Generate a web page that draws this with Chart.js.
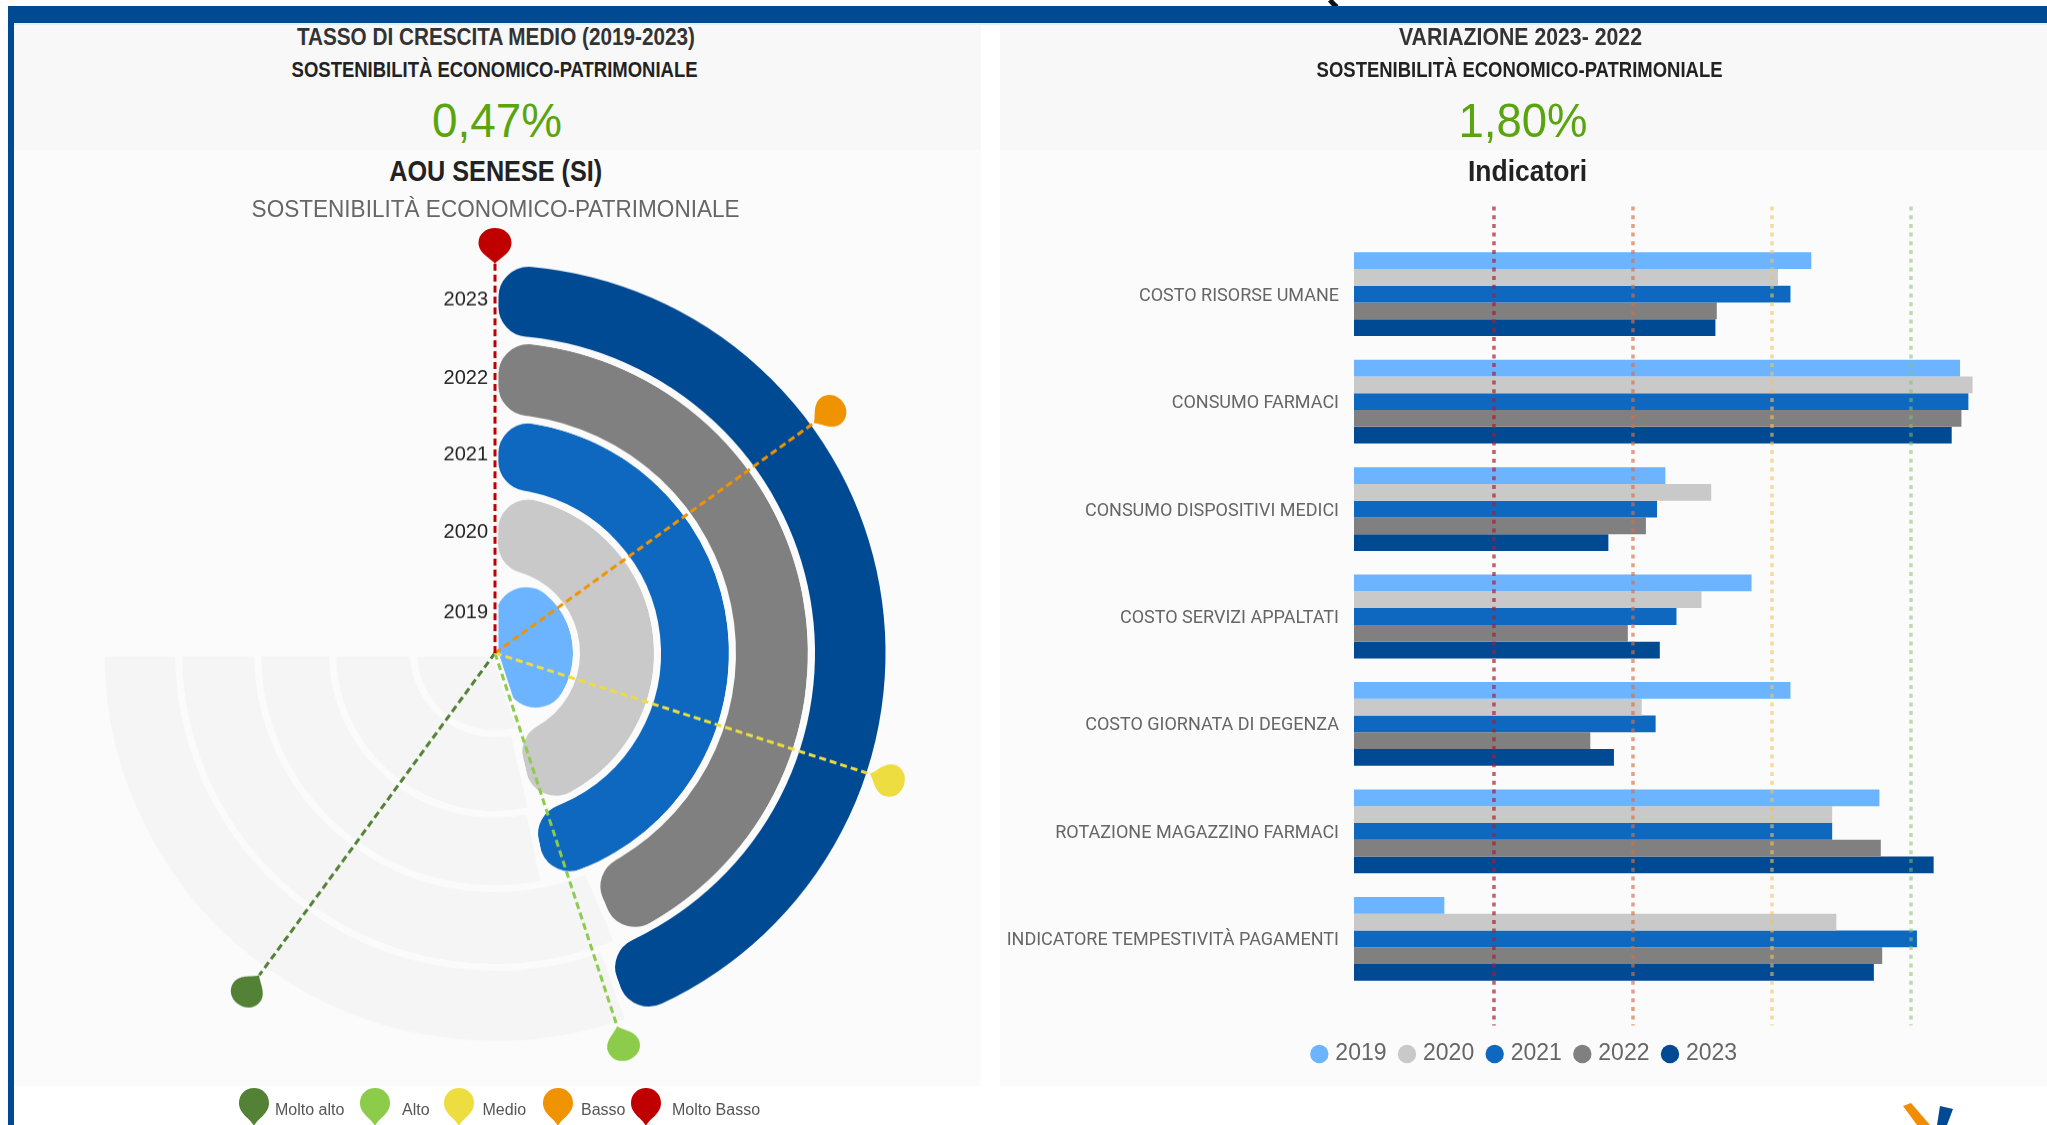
<!DOCTYPE html>
<html lang="it"><head><meta charset="utf-8">
<script src="https://cdn.jsdelivr.net/npm/chart.js@4"></script>
<style>
html,body{margin:0;padding:0;background:#fff;width:2047px;height:1125px;overflow:hidden;position:relative}
.box{position:absolute}
.t{position:absolute;white-space:nowrap;line-height:1;font-family:"Liberation Sans",sans-serif;transform-origin:center center}
canvas{position:absolute}
.lg{position:absolute;font:16px "Liberation Sans",sans-serif;color:#555;white-space:nowrap;line-height:1}
#all{position:absolute;left:0;top:0;width:2047px;height:1125px;filter:blur(.5px);overflow:hidden}
</style></head><body><div id="all">
<div class="box" style="left:1300px;top:0;width:60px;height:8px"><svg width="60" height="8" style="display:block"><path d="M30 0 Q33 4 37 7" stroke="#111" stroke-width="5" fill="none"/></svg></div>
<div class="box" style="left:8px;top:6px;width:2039px;height:17px;background:#004a93"></div>
<div class="box" style="left:8px;top:6px;width:6px;height:1119px;background:#004a93"></div>
<div class="box" style="left:14px;top:23px;width:2033px;height:2px;background:#dff0f8"></div>
<div class="box" style="left:14px;top:25px;width:967px;height:125px;background:#f8f8f8"></div>
<div class="box" style="left:14px;top:150px;width:967px;height:936px;background:#fbfbfb"></div>
<div class="box" style="left:1000px;top:25px;width:1047px;height:125px;background:#f8f8f8"></div>
<div class="box" style="left:1000px;top:150px;width:1047px;height:936px;background:#fbfbfb"></div>
<svg class="box" style="left:1880px;top:1095px" width="90" height="30"><path d="M23 11 L31 8 L50 30 L37 30 Z" fill="#f28c00"/><path d="M60 11 L73 14 L67 30 L57 30 Z" fill="#004a93"/></svg>
<canvas id="gauge" width="880" height="880" style="left:55px;top:213px;transform:scaleY(.993)"></canvas>
<canvas id="bars" width="1046" height="896" style="left:1003px;top:190px"></canvas>
<div id="texts"></div><div id="legend"></div>
</div>
<script>
const years = ['2019','2020','2021','2022','2023'];
const yearColors = ['#6cb4ff','#c9c9c9','#0f68c0','#808080','#004a93'];
const gaugeValues = [3.00,3.09,3.11,2.91,2.965];
const ringWeights = [81.5,81,75,79,77.5];
const gaugeMax = 5;
const trackColor = '#f5f5f5';
const levels = ['Molto alto','Alto','Medio','Basso','Molto Basso'];
const levelColors = ['#538135','#8ccc4a','#eedd40','#f09300','#c00000'];
const levelThresholds = [4,3,2,1,0];
const pinReach = [12,6,5,5,3];
const indicators = ['COSTO RISORSE UMANE','CONSUMO FARMACI','CONSUMO DISPOSITIVI MEDICI','COSTO SERVIZI APPALTATI','COSTO GIORNATA DI DEGENZA','ROTAZIONE MAGAZZINO FARMACI','INDICATORE TEMPESTIVITÀ PAGAMENTI'];
const v2019 = [3.29,4.36,2.24,2.86,3.14,3.78,0.65];
const v2020 = [3.05,4.45,2.57,2.50,2.07,3.44,3.47];
const v2021 = [3.14,4.42,2.18,2.32,2.17,3.44,4.05];
const v2022 = [2.61,4.37,2.10,1.97,1.70,3.79,3.80];
const v2023 = [2.60,4.30,1.83,2.20,1.87,4.17,3.74];
const barThresholds = [1.007,2.007,3.007,4.007];
const barThresholdColors = ['rgba(165,30,50,.7)','rgba(215,110,70,.65)','rgba(240,195,100,.6)','rgba(130,195,115,.55)'];

const headerTexts = [
 ['TASSO DI CRESCITA MEDIO (2019-2023)',496,37,398,23,'bold','#333'],
 ['SOSTENIBILITÀ ECONOMICO-PATRIMONIALE',495,70,406,22,'bold','#222'],
 ['0,47%',497,121,130,48,'normal','#5aa50f'],
 ['AOU SENESE (SI)',496,171,213,30,'bold','#222'],
 ['SOSTENIBILITÀ ECONOMICO-PATRIMONIALE',496,209,488,24,'normal','#666'],
 ['VARIAZIONE 2023- 2022',1520,37,243,23,'bold','#333'],
 ['SOSTENIBILITÀ ECONOMICO-PATRIMONIALE',1520,70,406,22,'bold','#222'],
 ['1,80%',1523,121,129,48,'normal','#5aa50f'],
 ['Indicatori',1528,171,119,30,'bold','#222']
];
const host = document.getElementById('texts');
headerTexts.forEach(([s,cx,cy,w,fs,fw,col])=>{
  const d=document.createElement('div');d.className='t';d.textContent=s;
  d.style.fontSize=fs+'px';d.style.fontWeight=fw;d.style.color=col;
  host.appendChild(d);
  const r=d.getBoundingClientRect();
  d.style.left=(cx-r.width/2)+'px';d.style.top=(cy-r.height/2)+'px';
  d.style.transform='scaleX('+(w/r.width)+')';
});

const legendPinX=[254,375,459,557.5,646], legendTextX=[275,402,482.5,581,672];
const lh=document.getElementById('legend');
levels.forEach((s,i)=>{
  const p=document.createElementNS('http://www.w3.org/2000/svg','svg');
  p.setAttribute('width',32);p.setAttribute('height',38);p.style.position='absolute';
  p.style.left=(legendPinX[i]-16)+'px';p.style.top='1088px';
  p.innerHTML='<path d="M16 38 C12 30 1 26 1 15 C1 6 8 0 16 0 C24 0 31 6 31 15 C31 26 20 30 16 38 Z" fill="'+levelColors[i]+'"/>';
  lh.appendChild(p);
  const d=document.createElement('div');d.className='lg';d.textContent=s;
  d.style.left=legendTextX[i]+'px';d.style.top='1102px';lh.appendChild(d);
});

function pin(ctx,x,y,ang,color){
  ctx.save();ctx.translate(x,y);ctx.rotate(ang);
  ctx.beginPath();ctx.moveTo(0,0);
  ctx.bezierCurveTo(3,-5,16.5,-10,16.5,-21);
  ctx.bezierCurveTo(16.5,-30,9,-36,0,-36);
  ctx.bezierCurveTo(-9,-36,-16.5,-30,-16.5,-21);
  ctx.bezierCurveTo(-16.5,-10,-3,-5,0,0);
  ctx.closePath();ctx.fillStyle=color;ctx.fill();ctx.restore();
}
const gaugePlugin={id:'gaugeOverlay',afterDatasetsDraw(c){
  const ctx=c.ctx, m=c.getDatasetMeta(0).data[0], cx=m.x, cy=m.y;
  const outer=m.outerRadius;
  ctx.save();
  levels.forEach((s,i)=>{
    const a=levelThresholds[i]/gaugeMax*c.options.circumference*Math.PI/180;
    const tip=outer-5+pinReach[i];
    const dx=Math.sin(a),dy=-Math.cos(a);
    ctx.setLineDash([7,4]);ctx.lineWidth=3;ctx.strokeStyle=levelColors[i];
    ctx.beginPath();ctx.moveTo(cx,cy);ctx.lineTo(cx+dx*tip,cy+dy*tip);ctx.stroke();
    ctx.setLineDash([]);
    pin(ctx,cx+dx*tip,cy+dy*tip,a,levelColors[i]);
  });
  ctx.font='20px "Liberation Sans",sans-serif';ctx.textAlign='right';ctx.textBaseline='middle';ctx.fillStyle='#222';
  years.forEach((y,i)=>{
    const arc=c.getDatasetMeta(years.length-1-i).data[0];
    ctx.fillText(y,cx-7,cy-(arc.innerRadius+arc.outerRadius)/2);
  });
  ctx.restore();
}};
new Chart(document.getElementById('gauge'),{
  type:'doughnut',
  data:{labels:['valore','resto'],datasets:years.map((y,i)=>i).reverse().map(i=>({
    label:years[i],
    data:[gaugeValues[i],gaugeMax-gaugeValues[i]],
    weight:ringWeights[i],
    backgroundColor:[yearColors[i],trackColor],
    borderColor:'#fbfbfb',borderWidth:7,
    borderRadius:(ctx)=>ctx.dataIndex===0?34:0
  }))},
  options:{responsive:false,animation:false,rotation:0,circumference:270,cutout:0,radius:394,
    layout:{padding:0},plugins:{legend:{display:false},tooltip:{enabled:false}}},
  plugins:[gaugePlugin]
});

const thresholdPlugin={id:'thresholds',afterDatasetsDraw(c){
  const ctx=c.ctx,x=c.scales.x,a=c.chartArea;
  ctx.save();ctx.setLineDash([4,4.7]);ctx.lineWidth=3.5;
  barThresholds.forEach((t,i)=>{
    const px=x.getPixelForValue(t);
    ctx.strokeStyle=barThresholdColors[i];
    ctx.beginPath();ctx.moveTo(px,a.top-34);ctx.lineTo(px,a.bottom+33);ctx.stroke();
  });
  ctx.restore();
}};
const series=[v2019,v2020,v2021,v2022,v2023];
new Chart(document.getElementById('bars'),{
  type:'bar',
  data:{labels:indicators,datasets:years.map((y,i)=>({label:y,data:series[i],backgroundColor:yearColors[i],barPercentage:1,categoryPercentage:.78}))},
  options:{indexAxis:'y',responsive:false,animation:false,
    layout:{padding:{top:50.5,right:0,bottom:10.5,left:0}},
    scales:{
      x:{min:0,max:5,display:true,grid:{display:false},border:{display:false},ticks:{display:false},afterFit(s){s.height=34}},
      y:{grid:{display:false},border:{display:false},afterFit(s){s.width=351},
         ticks:{padding:7,labelOffset:2,color:'#666',autoSkip:false,font:{family:'Roboto',size:18}}}
    },
    plugins:{tooltip:{enabled:false},
      legend:{position:'bottom',labels:{usePointStyle:true,pointStyle:'circle',boxWidth:9,boxHeight:13,padding:16,color:'#666',font:{family:'"Liberation Sans"',size:23}}}}},
  plugins:[thresholdPlugin]
});
</script></body></html>
